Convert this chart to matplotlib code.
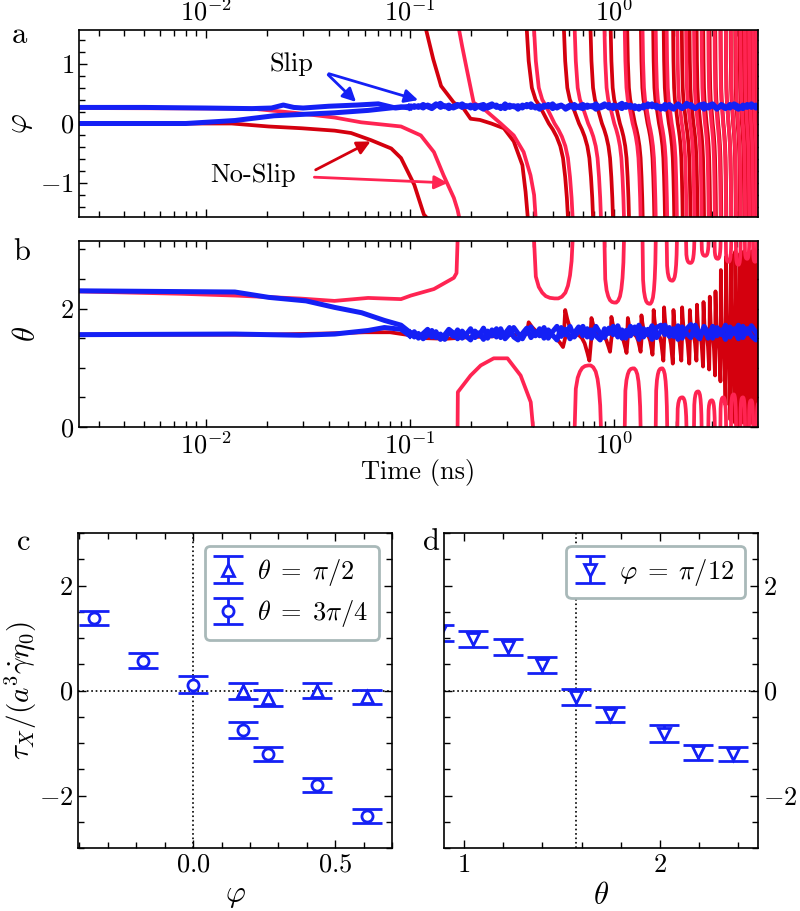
import numpy as np
import matplotlib
matplotlib.use('Agg')
import matplotlib.pyplot as plt
from matplotlib.ticker import MultipleLocator, LogLocator

plt.rcParams['font.family'] = 'serif'
plt.rcParams['font.serif'] = ['cmr10']
plt.rcParams['mathtext.fontset'] = 'cm'
plt.rcParams['axes.formatter.use_mathtext'] = True
plt.rcParams['font.size'] = 19
plt.rcParams['axes.linewidth'] = 1.2

BLUE = '#1420f5'
DARK = '#d4000e'
PINK = '#ff2452'

# ---------------- panel a / b : time traces (ns) ----------------
# early part of the slip traces
SLIP1_T = [0.0024, 0.005, 0.01, 0.0168, 0.021, 0.024, 0.027, 0.03, 0.04, 0.055, 0.07, 0.085, 0.1]
SLIP1_PHI = [0.27, 0.27, 0.26, 0.25, 0.26, 0.31, 0.27, 0.26, 0.29, 0.31, 0.33, 0.26, 0.29]
SLIP2_T = [0.0024, 0.008, 0.0139, 0.0216, 0.0428, 0.0624, 0.0904, 0.1]
SLIP2_PHI = [0.0, 0.0, 0.05, 0.13, 0.18, 0.22, 0.28, 0.26]

SLIP1_TH_T = [0.0024, 0.0139, 0.0203, 0.031, 0.0428, 0.058, 0.075, 0.0904, 0.1]
SLIP1_TH = [2.30, 2.28, 2.19, 2.13, 2.02, 1.93, 1.80, 1.72, 1.60]
SLIP2_TH_T = [0.0024, 0.0139, 0.029, 0.0428, 0.0624, 0.075, 0.0904, 0.1]
SLIP2_TH = [1.56, 1.57, 1.55, 1.57, 1.63, 1.68, 1.65, 1.54]

# noisy slip band after 0.1 ns
BAND_T = [0.100, 0.105, 0.110, 0.116, 0.122, 0.128, 0.134, 0.141, 0.148, 0.155,
          0.163, 0.171, 0.180, 0.189, 0.198, 0.208, 0.218, 0.229, 0.240, 0.252,
          0.265, 0.278, 0.292, 0.307, 0.322, 0.338, 0.355, 0.373, 0.391, 0.411,
          0.431, 0.453, 0.475, 0.499, 0.524, 0.550, 0.578, 0.607, 0.637, 0.669,
          0.702, 0.737, 0.774, 0.813, 0.853, 0.896, 0.941, 0.988, 1.04, 1.09,
          1.14, 1.20, 1.26, 1.32, 1.39, 1.46, 1.53, 1.61, 1.69, 1.77,
          1.86, 1.95, 2.05, 2.15, 2.26, 2.37, 2.49, 2.62, 2.75, 2.88,
          3.03, 3.18, 3.34, 3.50, 3.68, 3.86, 4.05, 4.26, 4.47, 4.69,
          4.93, 5.10]
BAND_PHI1 = [0.29, 0.27, 0.30, 0.26, 0.31, 0.28, 0.33, 0.27, 0.30, 0.25,
             0.29, 0.32, 0.27, 0.30, 0.26, 0.31, 0.28, 0.24, 0.30, 0.33,
             0.27, 0.29, 0.25, 0.31, 0.28, 0.30, 0.26, 0.32, 0.27, 0.29,
             0.24, 0.31, 0.28, 0.33, 0.26, 0.30, 0.27, 0.31, 0.25, 0.29,
             0.32, 0.27, 0.30, 0.24, 0.29, 0.33, 0.26, 0.31, 0.28, 0.25,
             0.32, 0.27, 0.30, 0.24, 0.31, 0.28, 0.33, 0.26, 0.29, 0.24,
             0.32, 0.27, 0.30, 0.25, 0.34, 0.28, 0.26, 0.31, 0.24, 0.30,
             0.33, 0.26, 0.29, 0.25, 0.32, 0.28, 0.24, 0.31, 0.27, 0.33,
             0.26, 0.29]
BAND_PHI2 = [0.26, 0.30, 0.27, 0.32, 0.28, 0.25, 0.30, 0.34, 0.28, 0.31,
             0.26, 0.29, 0.33, 0.28, 0.31, 0.25, 0.30, 0.32, 0.26, 0.29,
             0.31, 0.25, 0.33, 0.27, 0.30, 0.24, 0.31, 0.28, 0.33, 0.26,
             0.30, 0.27, 0.32, 0.25, 0.29, 0.31, 0.24, 0.28, 0.32, 0.27,
             0.25, 0.31, 0.28, 0.33, 0.26, 0.29, 0.32, 0.25, 0.30, 0.34,
             0.27, 0.31, 0.25, 0.29, 0.26, 0.33, 0.28, 0.31, 0.24, 0.32,
             0.28, 0.24, 0.33, 0.27, 0.29, 0.32, 0.25, 0.31, 0.33, 0.26,
             0.30, 0.24, 0.32, 0.28, 0.26, 0.33, 0.29, 0.25, 0.32, 0.27,
             0.31, 0.28]
BAND_TH1 = [1.60, 1.52, 1.58, 1.49, 1.55, 1.63, 1.51, 1.57, 1.48, 1.60,
            1.53, 1.64, 1.50, 1.57, 1.66, 1.51, 1.59, 1.48, 1.62, 1.54,
            1.66, 1.51, 1.58, 1.68, 1.52, 1.47, 1.58, 1.67, 1.51, 1.61,
            1.54, 1.68, 1.50, 1.61, 1.70, 1.53, 1.65, 1.49, 1.59, 1.69,
            1.54, 1.66, 1.50, 1.70, 1.58, 1.51, 1.67, 1.56, 1.71, 1.50,
            1.63, 1.54, 1.69, 1.48, 1.66, 1.56, 1.71, 1.51, 1.62, 1.72,
            1.53, 1.66, 1.48, 1.69, 1.58, 1.51, 1.72, 1.56, 1.66, 1.50,
            1.70, 1.54, 1.64, 1.48, 1.69, 1.58, 1.72, 1.51, 1.66, 1.54,
            1.47, 1.58]
BAND_TH2 = [1.54, 1.61, 1.50, 1.58, 1.65, 1.52, 1.61, 1.48, 1.56, 1.65,
            1.59, 1.49, 1.62, 1.53, 1.47, 1.62, 1.55, 1.67, 1.50, 1.64,
            1.52, 1.66, 1.49, 1.57, 1.68, 1.58, 1.49, 1.62, 1.69, 1.54,
            1.66, 1.50, 1.64, 1.55, 1.47, 1.68, 1.56, 1.70, 1.52, 1.62,
            1.70, 1.52, 1.64, 1.54, 1.47, 1.66, 1.58, 1.70, 1.52, 1.64,
            1.50, 1.70, 1.58, 1.72, 1.52, 1.65, 1.48, 1.68, 1.72, 1.56,
            1.68, 1.53, 1.71, 1.50, 1.66, 1.73, 1.56, 1.49, 1.70, 1.60,
            1.50, 1.68, 1.56, 1.72, 1.52, 1.66, 1.49, 1.70, 1.58, 1.71,
            1.60, 1.52]

# no-slip traces: first part read point by point
NS1_T = [0.0024, 0.0134, 0.0203, 0.0295, 0.0428, 0.0515, 0.0645, 0.081, 0.0904, 0.105, 0.117, 0.12]
NS1_PHI = [0.0, 0.0, -0.05, -0.08, -0.12, -0.16, -0.28, -0.42, -0.58, -1.03, -1.53, -1.571]
NS1_SW_T = [0.12, 0.13, 0.142, 0.164, 0.183, 0.198, 0.22, 0.25, 0.288, 0.322, 0.355, 0.368, 0.377]
NS1_SW_PHI = [1.571, 1.08, 0.63, 0.35, 0.25, 0.08, 0.06, 0.0, -0.08, -0.3, -0.7, -1.15, -1.571]
NS1_TH_T = [0.0024, 0.02, 0.04, 0.06, 0.08, 0.1, 0.12, 0.15, 0.2, 0.25, 0.3, 0.373]
NS1_TH = [1.56, 1.56, 1.58, 1.60, 1.60, 1.55, 1.50, 1.49, 1.52, 1.53, 1.55, 1.57]

NS2_T = [0.0024, 0.0168, 0.0272, 0.0428, 0.0577, 0.0904, 0.113, 0.131, 0.146, 0.164, 0.171, 0.174]
NS2_PHI = [0.26, 0.25, 0.18, 0.10, 0.02, -0.05, -0.2, -0.48, -0.87, -1.25, -1.45, -1.571]
NS2_SW_T = [0.174, 0.18, 0.19, 0.205, 0.229, 0.278, 0.322, 0.36, 0.389, 0.405, 0.412]
NS2_SW_PHI = [1.571, 1.3, 0.9, 0.35, 0.25, 0.0, -0.2, -0.48, -0.87, -1.2, -1.571]
NS2_TH_T = [0.0024, 0.0076, 0.0139, 0.029, 0.0427, 0.0624, 0.0904, 0.101, 0.131, 0.164, 0.169, 0.171]
NS2_TH = [2.29, 2.25, 2.22, 2.17, 2.13, 2.18, 2.16, 2.22, 2.33, 2.52, 2.60, 3.1416]
NS2_ARC_T = [0.171, 0.1715, 0.198, 0.222, 0.257, 0.30, 0.348, 0.39, 0.40]
NS2_ARC_TH = [0.0, 0.59, 0.87, 1.04, 1.16, 1.16, 0.87, 0.42, 0.0]

# shape of one tumbling half-turn, offsets (ns) from its phi = 0 crossing
TURN_DT = [-0.105, -0.097, -0.083, -0.066, -0.048, -0.026, 0.0, 0.022, 0.044, 0.066, 0.083, 0.097, 0.108, 0.115]
TURN_PHI = [1.571, 1.05, 0.6, 0.4, 0.3, 0.16, 0.0, -0.1, -0.22, -0.38, -0.58, -0.9, -1.25, -1.571]
TURN_ARC = [0.0, 0.62, 0.8, 0.9, 0.96, 0.99, 1.0, 1.0, 0.97, 0.9, 0.78, 0.6, 0.35, 0.0]
TURN_KICK = [0.0, 0.9, 0.55, 0.25, 0.05, 0.0, -0.05, -0.15, -0.35, -0.7, -1.0, -0.3, 0.05, 0.0]

# crossing times of later half-turns
NS1_TC = [0.478, 0.672, 0.87, 1.065, 1.262, 1.455, 1.655, 1.85, 2.045, 2.245, 2.44, 2.635,
          2.83, 3.03, 3.225, 3.42, 3.62, 3.815, 4.01, 4.21, 4.405, 4.60, 4.80, 5.0]
NS1_KICK = [0.22, 0.45, 0.3, 0.32, 0.3, 0.35, 0.45, 0.5, 0.45, 0.5, 0.45, 0.55,
            0.6, 0.7, 0.8, 1.2, 1.45, 1.5, 1.55, 1.5, 1.55, 1.5, 1.55, 1.5]
NS2_TC = [0.51, 0.745, 1.0, 1.23, 1.48, 1.7, 1.91, 2.14, 2.35, 2.56, 2.78, 2.99,
          3.2, 3.41, 3.62, 3.83, 4.04, 4.25, 4.46, 4.67, 4.88, 5.09]
NS2_DEPTH = [0.97, 1.04, 1.04, 0.99, 1.06, 0.99, 0.67, 0.5, 0.37, 0.6, 0.25, 0.45,
             0.3, 0.5, 0.35, 0.55, 0.4, 0.5, 0.3, 0.45, 0.35, 0.4]

# ---------------- panel c / d : torques ----------------
C_PHI = [-0.35, -0.175, 0.0, 0.175, 0.262, 0.436, 0.611]
C_TAU_34 = [1.38, 0.57, 0.11, -0.75, -1.21, -1.80, -2.39]
C_ERR_34 = [0.13, 0.14, 0.16, 0.15, 0.14, 0.14, 0.14]
C_PHI_12 = [0.175, 0.262, 0.436, 0.611]
C_TAU_12 = [-0.01, -0.14, 0.0, -0.12]
C_ERR_12 = [0.15, 0.15, 0.14, 0.13]

D_THETA = [0.873, 1.047, 1.222, 1.396, 1.571, 1.745, 2.02, 2.195, 2.371]
D_TAU = [1.10, 0.98, 0.83, 0.49, -0.13, -0.46, -0.82, -1.18, -1.21]
D_ERR = [0.15, 0.15, 0.15, 0.15, 0.15, 0.14, 0.16, 0.15, 0.14]

W, H = 800, 911
fig = plt.figure(figsize=(W / 100, H / 100), dpi=100)


def box(x0, y0, x1, y1):
    return [x0 / W, 1 - y1 / H, (x1 - x0) / W, (y1 - y0) / H]


ax_a = fig.add_axes(box(79, 30, 758, 217))
ax_b = fig.add_axes(box(79, 241, 758, 427))
ax_c = fig.add_axes(box(78, 533, 392, 848))
ax_d = fig.add_axes(box(444, 533, 758, 848))

dt = np.array(TURN_DT)
lw_r, lw_b = 2.7, 3.6

# panel a
ax_a.plot(NS1_T, NS1_PHI, color=DARK, lw=lw_r)
ax_a.plot(NS1_SW_T, NS1_SW_PHI, color=DARK, lw=lw_r)
for tc in NS1_TC:
    ax_a.plot(tc + dt, TURN_PHI, color=DARK, lw=lw_r)
ax_a.plot(NS2_T, NS2_PHI, color=PINK, lw=lw_r)
ax_a.plot(NS2_SW_T, NS2_SW_PHI, color=PINK, lw=lw_r)
for tc in NS2_TC:
    ax_a.plot(tc + dt, TURN_PHI, color=PINK, lw=lw_r)
ax_a.plot(SLIP1_T, SLIP1_PHI, color=BLUE, lw=lw_b)
ax_a.plot(SLIP2_T, SLIP2_PHI, color=BLUE, lw=lw_b)
ax_a.plot(BAND_T, BAND_PHI1, color=BLUE, lw=lw_b)
ax_a.plot(BAND_T, BAND_PHI2, color=BLUE, lw=lw_b)

ax_a.text(0.0263, 1.0, 'Slip', ha='center', va='center')
for end in [(0.0557, 0.33), (0.113, 0.38)]:
    ax_a.annotate('', xy=end, xytext=(0.0389, 0.85),
                  arrowprops=dict(arrowstyle='-|>', color=BLUE, lw=2, mutation_scale=20))
ax_a.text(0.0171, -0.87, 'No-Slip', ha='center', va='center')
ax_a.annotate('', xy=(0.066, -0.28), xytext=(0.0336, -0.8),
              arrowprops=dict(arrowstyle='-|>', color=DARK, lw=2, mutation_scale=20))
ax_a.annotate('', xy=(0.158, -1.0), xytext=(0.033, -0.9),
              arrowprops=dict(arrowstyle='-|>', color=PINK, lw=2, mutation_scale=20))

# panel b
th1_t = list(NS1_TH_T)
th1 = list(NS1_TH)
for tc, k in zip(NS1_TC, NS1_KICK):
    th1 += list(np.pi / 2 + k * np.array(TURN_KICK))
    th1_t += list(tc + dt)
ax_b.plot(th1_t, th1, color=DARK, lw=lw_r)
ax_b.plot(NS2_TH_T, NS2_TH, color=PINK, lw=lw_r)
ax_b.plot(NS2_ARC_T, NS2_ARC_TH, color=PINK, lw=lw_r)
for i, (tc, d) in enumerate(zip(NS2_TC, NS2_DEPTH)):
    arc = d * np.array(TURN_ARC)
    ax_b.plot(tc + dt, np.pi - arc if i % 2 == 0 else arc, color=PINK, lw=lw_r)
ax_b.plot(SLIP1_TH_T, SLIP1_TH, color=BLUE, lw=lw_b)
ax_b.plot(SLIP2_TH_T, SLIP2_TH, color=BLUE, lw=lw_b)
ax_b.plot(BAND_T, BAND_TH1, color=BLUE, lw=lw_b)
ax_b.plot(BAND_T, BAND_TH2, color=BLUE, lw=lw_b)

for ax in (ax_a, ax_b):
    ax.set_xscale('log')
    ax.set_xlim(2.4e-3, 5.05)
    ax.xaxis.set_minor_locator(LogLocator(base=10, subs=np.arange(2, 10)))
    ax.tick_params(which='both', direction='in', top=True, right=True, width=1)
    ax.tick_params(which='major', length=6)
    ax.tick_params(which='minor', length=4)
ax_a.tick_params(axis='x', which='both', labeltop=True, labelbottom=False)
ax_a.set_ylim(-np.pi / 2, np.pi / 2)
ax_a.yaxis.set_major_locator(MultipleLocator(1))
ax_a.yaxis.set_minor_locator(MultipleLocator(0.2))
ax_a.set_ylabel(r'$\varphi$', fontsize=22, labelpad=4)
ax_b.set_ylim(0, np.pi)
ax_b.yaxis.set_major_locator(MultipleLocator(2))
ax_b.yaxis.set_minor_locator(MultipleLocator(0.5))
ax_b.set_ylabel(r'$\theta$', fontsize=22, labelpad=14)
ax_b.set_xlabel('Time (ns)', labelpad=0)

# panel c
eb = dict(color=BLUE, mfc='white', mec=BLUE, ms=8, mew=2, capsize=11,
          capthick=2.8, elinewidth=2, ls='none')
ax_c.axhline(0, color='k', ls=':', lw=1.2, zorder=0)
ax_c.axvline(0, color='k', ls=':', lw=1.2, zorder=0)
ax_c.errorbar(C_PHI_12, C_TAU_12, yerr=C_ERR_12, marker='^', label=r'$\theta\;=\;\pi/2$', **eb)
ax_c.errorbar(C_PHI, C_TAU_34, yerr=C_ERR_34, marker='o', label=r'$\theta\;=\;3\pi/4$', **eb)
ax_c.set_xlim(-0.405, 0.70)
ax_c.set_xlabel(r'$\varphi$', fontsize=22)
ax_c.set_ylabel(r'$\tau_X/(a^3\dot{\gamma}\eta_0)$', fontsize=21, labelpad=0)
ax_c.xaxis.set_major_locator(MultipleLocator(0.5))
ax_c.xaxis.set_minor_locator(MultipleLocator(0.1))

# panel d
ax_d.axhline(0, color='k', ls=':', lw=1.2, zorder=0)
ax_d.axvline(np.pi / 2, color='k', ls=':', lw=1.2, zorder=0)
ax_d.errorbar(D_THETA, D_TAU, yerr=D_ERR, marker='v', label=r'$\varphi\;=\;\pi/12$', **eb)
ax_d.set_xlim(0.898, 2.5)
ax_d.set_xlabel(r'$\theta$', fontsize=22)
ax_d.xaxis.set_major_locator(MultipleLocator(1))
ax_d.xaxis.set_minor_locator(MultipleLocator(0.2))

for ax in (ax_c, ax_d):
    ax.set_ylim(-3, 3)
    ax.yaxis.set_major_locator(MultipleLocator(2))
    ax.yaxis.set_minor_locator(MultipleLocator(0.5))
    ax.tick_params(which='both', direction='in', top=True, right=True, width=1)
    ax.tick_params(which='major', length=6)
    ax.tick_params(which='minor', length=4)
    leg = ax.legend(loc='upper right', handlelength=1.0, handletextpad=0.6,
                    fancybox=True, framealpha=1, borderpad=0.4, labelspacing=0.4)
    leg.get_frame().set_edgecolor('#a9b9b9')
    leg.get_frame().set_linewidth(2)
ax_d.tick_params(axis='y', which='both', labelleft=False, labelright=True)

for lab, x, y in [('a', 12, 43), ('b', 13, 260), ('c', 17, 550), ('d', 423, 550)]:
    fig.text(x / W, 1 - y / H, lab, fontsize=22, va='baseline')

fig.savefig('out.png', dpi=100)
